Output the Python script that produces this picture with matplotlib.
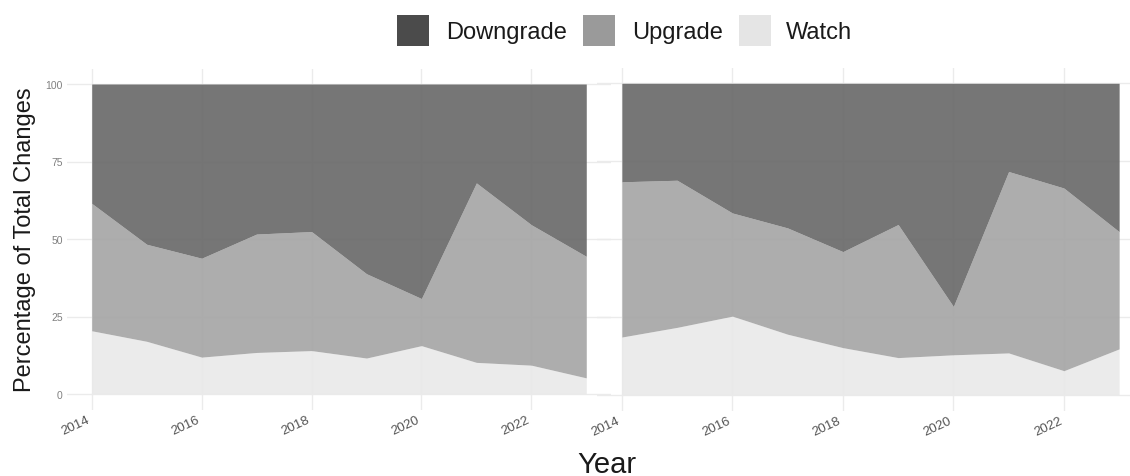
import matplotlib
matplotlib.use("Agg")
import matplotlib.pyplot as plt
from matplotlib.patches import Rectangle
import numpy as np

plt.rcParams["font.family"] = ["Liberation Sans", "DejaVu Sans"]

years = [2014, 2015, 2016, 2017, 2018, 2019, 2020, 2021, 2022, 2023]
year_ticks = [2014, 2016, 2018, 2020, 2022]
pct_ticks = [0, 25, 50, 75, 100]
categories = ["Downgrade", "Upgrade", "Watch"]

# left panel shares (%)
watch_a = [20.4, 17.0, 11.9, 13.4, 14.0, 11.6, 15.6, 10.2, 9.3, 5.2]
upgrade_a = [41.1, 31.3, 31.9, 38.2, 38.4, 27.2, 15.2, 57.9, 45.3, 39.2]
downgrade_a = [38.5, 51.7, 56.2, 48.4, 47.6, 61.2, 69.2, 31.9, 45.4, 55.6]

# right panel shares (%)
watch_b = [18.6, 21.7, 25.3, 19.5, 15.2, 12.0, 12.9, 13.5, 7.8, 14.8]
upgrade_b = [49.8, 47.2, 33.1, 34.1, 30.8, 42.7, 15.5, 58.2, 58.6, 37.6]
downgrade_b = [31.6, 31.1, 41.6, 46.4, 54.0, 45.3, 71.6, 28.3, 33.6, 47.6]

fill_colors = {"Downgrade": "#676767", "Upgrade": "#a4a4a4", "Watch": "#e9e9e9"}
key_colors = {"Downgrade": "#4b4b4b", "Upgrade": "#9a9a9a", "Watch": "#e5e5e5"}
grid_color = "#ebebeb"

W, H = 1130, 477
fig = plt.figure(figsize=(W / 100, H / 100), dpi=100)


def px_axes(x0, x1, ytop, ybot):
    return fig.add_axes([x0 / W, 1 - ybot / H, (x1 - x0) / W, (ybot - ytop) / H])


def draw_panel(ax, watch, upgrade, downgrade, show_y):
    x = np.array(years, dtype=float)
    w = np.array(watch)
    u = np.array(upgrade)
    d = np.array(downgrade)
    ax.set_facecolor("none")
    ax.fill_between(x, 0, w, color=fill_colors["Watch"], alpha=0.9, lw=0, zorder=2)
    ax.fill_between(x, w, w + u, color=fill_colors["Upgrade"], alpha=0.9, lw=0, zorder=2)
    ax.fill_between(x, w + u, w + u + d, color=fill_colors["Downgrade"], alpha=0.9, lw=0, zorder=2)
    span = years[-1] - years[0]
    ax.set_xlim(years[0] - 0.05 * span, years[-1] + 0.05 * span)
    ax.set_ylim(-5, 105)
    ax.set_xticks(year_ticks)
    ax.set_xticklabels([str(y) for y in year_ticks], rotation=25, ha="right",
                       fontsize=9.5, color="#555555")
    ax.set_yticks(pct_ticks)
    if show_y:
        ax.set_yticklabels([str(v) for v in pct_ticks], fontsize=7.5, color="#808080")
    else:
        ax.set_yticklabels([])
    ax.tick_params(length=0, pad=3)
    ax.tick_params(axis="x", pad=3)
    ax.grid(True, color=grid_color, lw=1.0, zorder=0)
    ax.set_axisbelow(True)
    for s in ax.spines.values():
        s.set_visible(False)


ax1 = px_axes(67, 611, 69.5, 410.5)
draw_panel(ax1, watch_a, upgrade_a, downgrade_a, True)
ax2 = px_axes(597, 1144, 68.7, 411.6)
draw_panel(ax2, watch_b, upgrade_b, downgrade_b, False)

# axis titles
fig.text(25 / W, 1 - 240 / H, "Percentage of Total Changes", rotation=90,
         ha="center", va="center", fontsize=17, color="#1a1a1a")
fig.text(607 / W, 1 - 465 / H, "Year", ha="center", va="center",
         fontsize=21, color="#1a1a1a")

# legend
key_x = {"Downgrade": 397, "Upgrade": 583, "Watch": 739}
label_x = {"Downgrade": 446, "Upgrade": 632, "Watch": 786}
for cat in categories:
    fig.add_artist(Rectangle((key_x[cat] / W, 1 - 47 / H), 32 / W, 31 / H,
                             transform=fig.transFigure, facecolor=key_colors[cat],
                             edgecolor="none"))
    fig.text(label_x[cat] / W, 1 - 33 / H, cat, ha="left", va="center",
             fontsize=17, color="#1a1a1a")

fig.savefig("out.png", dpi=100, facecolor="white")
